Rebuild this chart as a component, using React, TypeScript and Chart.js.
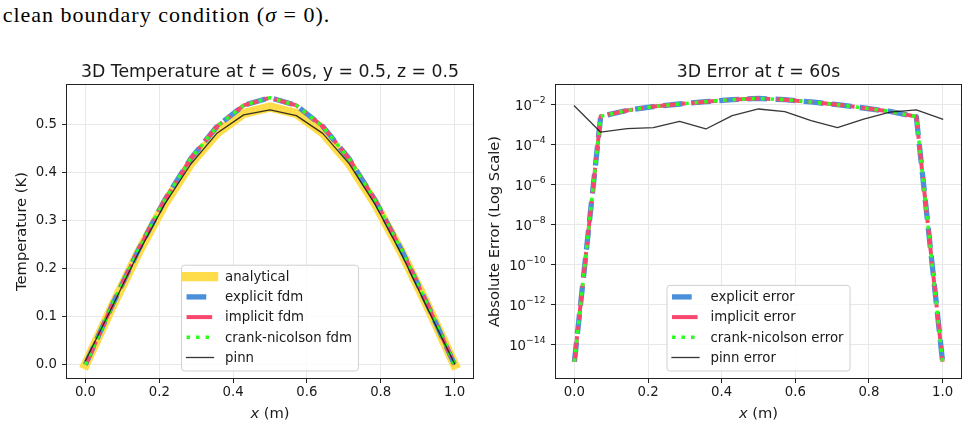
import React, { useEffect, useRef } from 'react';
import { Chart, registerables } from 'chart.js';

Chart.register(...registerables);

// ---------------- data ----------------
const xPositions = [0, 0.0714, 0.1429, 0.2143, 0.2857, 0.3571, 0.4286, 0.5, 0.5714, 0.6429, 0.7143, 0.7857, 0.8571, 0.9286, 1.0];

const analyticalT = [0, 0.1193, 0.2326, 0.3342, 0.419, 0.4829, 0.5225, 0.536, 0.5225, 0.4829, 0.419, 0.3342, 0.2326, 0.1193, 0];
const explicitT = [0, 0.1218, 0.2375, 0.3419, 0.4293, 0.4964, 0.5395, 0.5555, 0.5395, 0.4959, 0.4285, 0.3407, 0.237, 0.1217, 0];
const implicitT = [0, 0.1218, 0.2375, 0.3419, 0.4293, 0.4964, 0.5395, 0.5555, 0.5395, 0.4959, 0.4285, 0.3407, 0.237, 0.1217, 0];
const crankT = [0, 0.1218, 0.2375, 0.3419, 0.4293, 0.4964, 0.5395, 0.5555, 0.5395, 0.4959, 0.4285, 0.3407, 0.237, 0.1217, 0];
const pinnT = [0.0082, 0.1189, 0.232, 0.3335, 0.4176, 0.4823, 0.5198, 0.5302, 0.5182, 0.4814, 0.4183, 0.3324, 0.2286, 0.1141, 0.0018];

const explicitErr = [1.3e-15, 2.5e-3, 4.9e-3, 7.7e-3, 1.03e-2, 1.35e-2, 1.7e-2, 1.95e-2, 1.7e-2, 1.3e-2, 9.5e-3, 6.5e-3, 4.4e-3, 2.4e-3, 1.3e-15];
const implicitErr = [1.3e-15, 2.5e-3, 4.9e-3, 7.7e-3, 1.03e-2, 1.35e-2, 1.7e-2, 1.95e-2, 1.7e-2, 1.3e-2, 9.5e-3, 6.5e-3, 4.4e-3, 2.4e-3, 1.3e-15];
const crankErr = [1.3e-15, 2.5e-3, 4.9e-3, 7.7e-3, 1.03e-2, 1.35e-2, 1.7e-2, 1.95e-2, 1.7e-2, 1.3e-2, 9.5e-3, 6.5e-3, 4.4e-3, 2.4e-3, 1.3e-15];
const pinnErr = [8.2e-3, 4.0e-4, 6.0e-4, 6.8e-4, 1.4e-3, 5.8e-4, 2.7e-3, 5.8e-3, 4.3e-3, 1.5e-3, 6.8e-4, 1.8e-3, 4.0e-3, 5.2e-3, 1.8e-3];

const xTickValues = [0, 0.2, 0.4, 0.6, 0.8, 1.0];
const tTickValues = [0, 0.1, 0.2, 0.3, 0.4, 0.5];
const errTickExponents = [-14, -12, -10, -8, -6, -4, -2];

const leftLabels = ['analytical', 'explicit fdm', 'implicit fdm', 'crank-nicolson fdm', 'pinn'];
const rightLabels = ['explicit error', 'implicit error', 'crank-nicolson error', 'pinn error'];

// ---------------- styles ----------------
const FAMILY = '"DejaVu Sans", sans-serif';
const TEXT = '#1a1a1a';
const GRID = '#e8e8e8';
const YELLOW = '#FFDD4A';
const BLUE = '#4A8FDA';
const PINK = '#F7476F';
const GREEN = '#2CFF1E';
const PINN = 'rgba(20,20,20,0.85)';
const TITLE_SIZE = 17.3;
const LABEL_SIZE = 14.7;

const styleAnalytical = { borderColor: YELLOW, borderWidth: 9.3, borderCapStyle: 'square', borderDash: [] as number[] };
const styleExplicit = { borderColor: BLUE, borderWidth: 5.3, borderCapStyle: 'butt', borderDash: [19.7, 8.5] };
const styleImplicit = { borderColor: PINK, borderWidth: 4, borderCapStyle: 'butt', borderDash: [25.6, 6.4, 4, 6.4] };
const styleCrank = { borderColor: GREEN, borderWidth: 3.5, borderCapStyle: 'butt', borderDash: [3.5, 6] };
const stylePinn = { borderColor: PINN, borderWidth: 1.3, borderCapStyle: 'square', borderDash: [] as number[] };

type Seg = { t: string; it?: boolean; size?: number; dy?: number };

function drawRich(ctx: CanvasRenderingContext2D, segs: Seg[], x: number, y: number, size: number, align: 'left' | 'center' | 'right') {
  ctx.save();
  ctx.fillStyle = TEXT;
  ctx.textBaseline = 'alphabetic';
  ctx.textAlign = 'left';
  const fontOf = (s: Seg) => `${s.it ? 'italic ' : ''}${s.size ?? size}px ${FAMILY}`;
  let total = 0;
  const widths = segs.map((s) => {
    ctx.font = fontOf(s);
    const w = ctx.measureText(s.t).width;
    total += w;
    return w;
  });
  let cx = align === 'center' ? x - total / 2 : align === 'right' ? x - total : x;
  segs.forEach((s, i) => {
    ctx.font = fontOf(s);
    ctx.fillText(s.t, cx, y + (s.dy ?? 0));
    cx += widths[i];
  });
  ctx.restore();
}

function drawLegend(chart: any) {
  const { ctx, chartArea: a } = chart;
  const ds = chart.data.datasets as any[];
  ctx.save();
  ctx.font = `13.3px ${FAMILY}`;
  const maxW = Math.max(...ds.map((d) => ctx.measureText(d.label).width));
  const w = 5 + 27 + 11.5 + maxW + 6.5;
  const rowH = 20.2;
  const h = 11.5 + (ds.length - 1) * rowH + 13.5;
  const left = (a.left + a.right) / 2 - w / 2;
  const bottom = a.bottom - 7;
  const top = bottom - h;
  const r = 3;
  ctx.beginPath();
  ctx.moveTo(left + r, top);
  ctx.lineTo(left + w - r, top);
  ctx.arcTo(left + w, top, left + w, top + r, r);
  ctx.lineTo(left + w, bottom - r);
  ctx.arcTo(left + w, bottom, left + w - r, bottom, r);
  ctx.lineTo(left + r, bottom);
  ctx.arcTo(left, bottom, left, bottom - r, r);
  ctx.lineTo(left, top + r);
  ctx.arcTo(left, top, left + r, top, r);
  ctx.closePath();
  ctx.fillStyle = 'rgba(255,255,255,0.8)';
  ctx.fill();
  ctx.strokeStyle = '#d0d0d0';
  ctx.lineWidth = 1;
  ctx.stroke();
  ds.forEach((d, i) => {
    const cy = top + 11.5 + i * rowH;
    ctx.save();
    ctx.strokeStyle = d.borderColor;
    ctx.lineWidth = d.borderWidth;
    ctx.setLineDash(d.borderDash || []);
    ctx.lineCap = d.borderCapStyle || 'butt';
    ctx.beginPath();
    ctx.moveTo(left + 5, cy);
    ctx.lineTo(left + 32, cy);
    ctx.stroke();
    ctx.restore();
    ctx.fillStyle = TEXT;
    ctx.textBaseline = 'alphabetic';
    ctx.textAlign = 'left';
    ctx.fillText(d.label, left + 43.5, cy + 4.3);
  });
  ctx.restore();
}

const decorPlugin = {
  id: 'decor',
  afterDatasetsDraw(chart: any) {
    const { ctx, chartArea: a } = chart;
    ctx.save();
    ctx.strokeStyle = '#222';
    ctx.lineWidth = 1;
    ctx.strokeRect(a.left - 0.5, a.top - 0.5, a.right - a.left + 1, a.bottom - a.top + 1);
    ctx.restore();
    drawLegend(chart);
  },
  afterDraw(chart: any, _args: any, opts: any) {
    const { ctx, chartArea: a } = chart;
    const cx = (a.left + a.right) / 2;
    drawRich(ctx, opts.title, cx, a.top - 7.7, TITLE_SIZE, 'center');
    drawRich(ctx, [{ t: 'x', it: true }, { t: ' (m)' }], cx, 418.2, LABEL_SIZE, 'center');
    if (opts.logTicks) {
      const ys = chart.scales.y;
      for (const e of opts.logTicks as number[]) {
        const py = ys.getPixelForValue(Math.pow(10, e));
        drawRich(ctx, [{ t: '10' }, { t: '\u2212' + Math.abs(e), size: 9.3, dy: -7 }], a.left - 10.3, py + 5.7, 13.3, 'right');
      }
    }
  },
};

const pts = (ys: number[]) => xPositions.map((x, i) => ({ x, y: ys[i] }));
const common = { pointRadius: 0, tension: 0, fill: false, borderJoinStyle: 'round' };

const tickFont = { family: FAMILY, size: 13.3 };
const labelFont = { family: FAMILY, size: LABEL_SIZE };

function xScale() {
  return {
    type: 'linear',
    min: -0.05,
    max: 1.05,
    afterBuildTicks: (s: any) => {
      s.ticks = xTickValues.map((v) => ({ value: v }));
    },
    afterFit: (s: any) => {
      s.height = 49;
    },
    border: { display: false },
    grid: { color: GRID, lineWidth: 1, tickLength: 5, tickColor: '#222', drawTicks: true },
    ticks: { font: tickFont, color: TEXT, padding: 2, maxRotation: 0, autoSkip: false, callback: (v: any) => Number(v).toFixed(1) },
  };
}

function leftConfig(): any {
  return {
    type: 'line',
    data: {
      datasets: [
        { label: leftLabels[0], data: pts(analyticalT), ...common, ...styleAnalytical, order: 5 },
        { label: leftLabels[1], data: pts(explicitT), ...common, ...styleExplicit, order: 4 },
        { label: leftLabels[2], data: pts(implicitT), ...common, ...styleImplicit, order: 3 },
        { label: leftLabels[3], data: pts(crankT), ...common, ...styleCrank, order: 2 },
        { label: leftLabels[4], data: pts(pinnT), ...common, ...stylePinn, order: 1 },
      ],
    },
    options: {
      responsive: false,
      animation: false,
      devicePixelRatio: 1,
      layout: { padding: { top: 85, right: 11, left: 0, bottom: 0 } },
      plugins: {
        legend: { display: false },
        tooltip: { enabled: false },
        decor: {
          title: [{ t: '3D Temperature at ' }, { t: 't', it: true }, { t: ' = 60s, y = 0.5, z = 0.5' }],
        },
      },
      scales: {
        x: xScale(),
        y: {
          type: 'linear',
          min: -0.0277,
          max: 0.582,
          afterBuildTicks: (s: any) => {
            s.ticks = tTickValues.map((v) => ({ value: v }));
          },
          afterFit: (s: any) => {
            s.width = 67;
          },
          border: { display: false },
          grid: { color: GRID, lineWidth: 1, tickLength: 5, tickColor: '#222' },
          ticks: { font: tickFont, color: TEXT, padding: 5, autoSkip: false, callback: (v: any) => Number(v).toFixed(1) },
          title: { display: true, text: 'Temperature (K)', font: labelFont, color: TEXT, padding: { top: 13, bottom: 0 } },
        },
      },
    },
    plugins: [decorPlugin],
  };
}

function rightConfig(): any {
  return {
    type: 'line',
    data: {
      datasets: [
        { label: rightLabels[0], data: pts(explicitErr), ...common, ...styleExplicit, order: 4 },
        { label: rightLabels[1], data: pts(implicitErr), ...common, ...styleImplicit, order: 3 },
        { label: rightLabels[2], data: pts(crankErr), ...common, ...styleCrank, order: 2 },
        { label: rightLabels[3], data: pts(pinnErr), ...common, ...stylePinn, order: 1 },
      ],
    },
    options: {
      responsive: false,
      animation: false,
      devicePixelRatio: 1,
      layout: { padding: { top: 85, right: 8, left: 0, bottom: 0 } },
      plugins: {
        legend: { display: false },
        tooltip: { enabled: false },
        decor: {
          title: [{ t: '3D Error at ' }, { t: 't', it: true }, { t: ' = 60s' }],
          logTicks: errTickExponents,
        },
      },
      scales: {
        x: xScale(),
        y: {
          type: 'logarithmic',
          min: 2e-16,
          max: 0.092,
          afterBuildTicks: (s: any) => {
            s.ticks = errTickExponents.map((e) => ({ value: Math.pow(10, e) }));
          },
          afterFit: (s: any) => {
            s.width = 72;
          },
          border: { display: false },
          grid: { color: GRID, lineWidth: 1, tickLength: 5, tickColor: '#222' },
          ticks: { display: false, autoSkip: false },
          title: { display: true, text: 'Absolute Error (Log Scale)', font: labelFont, color: TEXT, padding: { top: 2.2, bottom: 0 } },
        },
      },
    },
    plugins: [decorPlugin],
  };
}

function ChartCanvas({ left, width, make }: { left: number; width: number; make: () => any }) {
  const ref = useRef<HTMLCanvasElement | null>(null);
  useEffect(() => {
    if (!ref.current) return;
    const chart = new Chart(ref.current, make());
    return () => chart.destroy();
  }, []);
  return (
    <canvas
      ref={ref}
      width={width}
      height={427}
      style={{ position: 'absolute', left, top: 0, width, height: 427, display: 'block' }}
    />
  );
}

export default function App() {
  return (
    <div style={{ position: 'absolute', left: 0, top: 0, width: 969, height: 427, background: '#fff', overflow: 'hidden' }}>
      <div
        style={{
          position: 'absolute',
          left: 2.7,
          top: 3,
          font: '22px "Liberation Serif", serif',
          letterSpacing: '1px',
          lineHeight: '24px',
          whiteSpace: 'nowrap',
          color: '#000',
        }}
      >
        clean boundary condition (<i>σ</i> = 0).
      </div>
      <ChartCanvas left={0} width={484} make={leftConfig} />
      <ChartCanvas left={484} width={485} make={rightConfig} />
    </div>
  );
}
